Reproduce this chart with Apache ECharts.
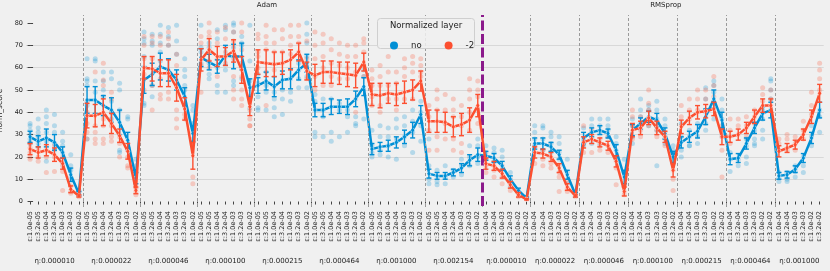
<!DOCTYPE html>
<html><head><meta charset="utf-8">
<script src="https://cdn.jsdelivr.net/npm/echarts@6/dist/echarts.min.js"></script>
<style>html,body{margin:0;padding:0;background:#f0f0f0}#c{width:830px;height:271px}</style>
</head><body><div id="c"></div>
<script>
// ---- data ----
const optimizers = ['Adam', 'RMSprop'];
const adamEps = ['1.0e-05','3.2e-05','1.0e-04','3.2e-04','1.0e-03','3.2e-03','1.0e-02'];
const rmsEps  = ['1.0e-04','3.2e-04','1.0e-03','3.2e-03','1.0e-02','3.2e-02'];
const adamEta = ['0.000010','0.000022','0.000046','0.000100','0.000215','0.000464','0.001000','0.002154'];
const rmsEta  = ['0.000010','0.000022','0.000046','0.000100','0.000215','0.000464','0.001000'];
const seriesNames = ['no', '-2'];

const blueMean = [
 29,27,28.5,26.5,22,12,3.5,
 45.5,45.5,43,41,35.5,27.5,10.5,
 54.5,57,60.5,59,54.5,47,30.5,
 64.5,62.5,60.5,65.5,65,65,51,
 52,54,51.5,54.5,55,59,62,
 41,41,42.5,42.5,42.5,46,51.5,
 23.5,24.5,25,26.5,29,32,39,
 12.5,11.5,11.5,13,15,18.5,21,
 20.5,19.5,16,10,5,1.5,
 26,26,24.5,21,12,3,
 28.5,31,32,30.5,23,11,
 32,35,38,36.5,30.5,20,
 26.5,29,31.5,38,46,36.5,
 19,19.5,26,33,39.5,41,
 11.5,12,14.5,19.5,28.5,41];
const blueErr = [
 2.5,2.5,4,3.5,2.5,3,1,
 6,6,4.5,5.5,5.5,3.5,2.5,
 6,5,6,5,4.5,4,3.5,
 4,3.5,3,4.5,5.5,6,4,
 3.5,4,4.5,4,4.5,4.5,4,
 3,3,3.5,3,3.5,3.5,4,
 2.5,2,2.5,2.5,3,3.5,4,
 2,1.5,1.5,1.5,2,2.5,3,
 2,2,2,1.5,1,0.5,
 2.5,2.5,2,2,2,1,
 2.5,2,2,2,2.5,3,
 2.5,2.5,2.5,3,2.5,2.5,
 2.5,2.5,3,3.5,4,3.5,
 2.5,2,2.5,2.5,3,3.5,
 1.5,1.5,1.5,2,2.5,3.5];
const redMean = [
 23.5,22,23,21,17,5.5,2.5,
 38.5,38.5,40,35,29.5,22.5,5,
 60,59.5,57.5,57.5,51,41.5,20.5,
 63.5,68,65,65,67.5,59,42.5,
 62.5,62,61.5,62,63.5,67,58.5,
 56.5,58,58,57.5,57,56.5,62.5,
 48,47.5,48.5,48,49,50,54,
 36,36,35.5,33.5,34.5,36.5,43,
 17,16,12.5,7.5,3,1,
 22,21.5,20,15,6.5,2.5,
 26.5,28,26.5,25,18,4.5,
 32,33,37.5,33,29,14,
 33.5,37.5,40,40.5,41.5,29,
 29,30,33,38,43,43,
 22.5,24,25.5,30,38,48.5];
const redErr = [
 2.5,2.5,2.5,3,2.5,1.5,0.5,
 5.5,5,6,4.5,3,3.5,1.5,
 5,5.5,6,6,6,5,6,
 5,5,4.5,4,5,6,4,
 5.5,6,5.5,5,4.5,4,4,
 5,5,5,5,5.5,5.5,4,
 5,5.5,4.5,5,5,4.5,4.5,
 5,5,4.5,4.5,5,5.5,5,
 2.5,2,2,1.5,1,0.3,
 2.5,2,2,2,1.5,0.5,
 2.5,2,2,2,2.5,2,
 3,3,3,3,2.5,3,
 3,3,3,3,3,3.5,
 2.5,2.5,2.5,3,3,3,
 2.5,2,2,2.5,3,4];
const blueDots = [
 [35,34,32,30,28,26],[37,33,31,29,26],[41,38,35,31,27,18],[39,34,31,26,23],[31,27,25,22,17],[21,16,14,11],[5,4,3],
 [64,55,54,52,43,28],[64,63,54,49],[58,54,50,47],[58,55,45,40,37],[53,50,41,23,22],[38,37,23],[19,16],
 [76,73,71,65,55,44,43],[75,72,70,52,47],[79,75,71,67,63],[78,74,70,58],[79,72,66],[64,59,56,52,50],[43,41,35],
 [79,69,67,62],[71,69,62,57,55],[77,73,60,52,49],[79,77,65,59,49],[80,79,76,69,54,52],[74,71,70,62,55],[79,63,54,47,42],
 [57,53,47,42,41],[58,52,49,41],[49,46,42,38],[50,46,39],[55,49,45],[62,59,55,51],[80,75,71,65,56,51],
 [48,45,41,31,29],[46,41,38,29],[46,31,27],[44,41,29],[41,38,31],[38,35,34],[59,56,37],
 [32,25,22,20],[34,29,23,21],[33,29,25,20],[37,33,28,19],[38,34,29,25],[41,36,31,22],[45,40,34,27],
 [28,16,10,8],[14,9,7.5],[16,11,8],[14,11],[19,16,12],[25,20,16],[28,25,20,17],
 [25,22,19],[24,22,18],[23,20,14],[13,10,7],[5,4,3],[1.5],
 [34,31,28,25],[34,33,28,23],[31,29,26,22],[29,26,22,19],[19,13,8],[4.5,3],
 [33,28,26,25],[37,34,31,26],[37,34,31,26],[37,34,32,29],[29,26,23,19],[19,13,8],
 [37,34,29,26],[46,41,38,35],[43,41,37,34],[45,41,37,32,16],[37,34,29,26],[25,23,20],
 [35,29,23,20],[32,29,25,25],[35,29,26],[51,46,40,35,32],[54,52,49,44,37],[46,41,37,29],
 [22,19,13.5],[19,16],[28,25,20,17],[32,28,26,25],[41,37,32,28],[55,54,50,46,41],
 [13,10.5,9],[13,10,9],[16,13.5,11],[20,16,13],[34,29,25],[41,38,31]];
const redDots = [
 [26,24,22,20,19],[24,20,18],[23,20,13],[25,20,13.5],[20,16,13.5,5],[7,4.5,3.7],[3,2.5,2.2],
 [45,40,35,31,28],[58,34,31,28,26],[62,54.5,52,37,34,28,26],[49,46,40,34,29,27],[29,26,20],[20,16,15],[6,4.5,3],
 [74,70,64,57,50],[74,71,64,52,41],[74,70,55,48,46],[76,73,70,49,46],[66,61,52,41,37,33],[44,43,39,37],[31,28,11,8],
 [74,71,61,49],[80,76,74,63,60],[76,71,64,56],[78,73,67,62],[76,72,64,56,50,46],[80,76,68,56,50,46,43],[47,41,37,34,34],
 [75,73,67,65,60],[79,74,71,68,43],[77,71,67,59],[77,73,67,62],[79,74,70,66],[79,74,71,67],[72,64,55],
 [76,70,64,56,50],[75,71,65,60,52],[73,68,62,56,52],[71,66,61,55],[70,65,60,55],[70,65,58,46,40],[73,71,67,61,56],
 [59,55,52,47,43],[61,56,52,43,40],[65,58,52,46],[58,53,46,41],[64,60,56,46],[65,62,58,46],[64,61,58,56],
 [43,38,32,23],[50,46,41,29,23],[48,41,35,28],[46,41,38,28,23],[43,38,34,26,22],[55,50,46,40,32],[54,50,47,41,35],
 [19.5,16,13],[16,14,11],[16,11,8],[10,7.5,5],[4,2.2],[1],
 [25,22,17],[23,19,16],[20,17,15],[16,13,11,4.5],[9,6,4.5],[3,2.2],
 [34,26,22],[32,28,22],[28,25,23],[29,25,22],[18,15,7.5],[7,4.5,3],
 [41,38,34,28],[38,32,29],[50,44,41,34],[35,32,29],[31,28,25],[14,10,5],
 [43,38,34],[46,41,37],[50,46,41],[50,46,41],[56,52,47],[34,29,23,11],
 [37,32,26],[37,34,30],[38,34,29],[41,38,35],[51,48,45],[50,46,43],
 [28,26,23],[30,28,23],[29,26,23],[36,32,28],[49,43,39],[62,59,55,50]];
const yTicks = [0,10,20,30,40,50,60,70,80];

// ---- derived structure ----
const categories = [];
const groupLabels = [];
const groupSizes = [];
adamEta.forEach(e => { groupLabels.push('η:' + e); groupSizes.push(adamEps.length); adamEps.forEach(s => categories.push('ε:' + s)); });
rmsEta.forEach(e => { groupLabels.push('η:' + e); groupSizes.push(rmsEps.length); rmsEps.forEach(s => categories.push('ε:' + s)); });
const boundaries = [], centers = [];
let acc = 0;
groupSizes.forEach((n, i) => { centers.push(acc + (n - 1) / 2); acc += n; if (i < groupSizes.length - 1) boundaries.push(acc - 0.5); });
const optBoundary = adamEta.length * adamEps.length - 0.5;
const optCenters = [29.1, 78.1];

const BLUE = '#008fd5', RED = '#fc4f30';
const dotsData = d => { const out = []; d.forEach((arr, i) => arr.forEach(v => out.push([i, v]))); return out; };
const errData = (m, e) => m.map((v, i) => [i, v - e[i], v + e[i]]);
function errRender(color) {
  return function (params, api) {
    const x = api.value(0);
    const p1 = api.coord([x, api.value(1)]), p2 = api.coord([x, api.value(2)]);
    const cw = 2.5, st = { stroke: color, lineWidth: 1.4 };
    return { type: 'group', children: [
      { type: 'line', shape: { x1: p1[0], y1: p1[1], x2: p2[0], y2: p2[1] }, style: st },
      { type: 'line', shape: { x1: p1[0] - cw, y1: p1[1], x2: p1[0] + cw, y2: p1[1] }, style: st },
      { type: 'line', shape: { x1: p2[0] - cw, y1: p2[1], x2: p2[0] + cw, y2: p2[1] }, style: st }
    ]};
  };
}
const nearestLabel = (labels, cs) => v => { let b = 0; cs.forEach((c, i) => { if (Math.abs(c - v) < Math.abs(cs[b] - v)) b = i; }); return labels[b]; };

const FONT = 'DejaVu Sans';
const chart = echarts.init(document.getElementById('c'), null, { renderer: 'canvas' });
const yBase = {
  type: 'value', min: -2, max: 83.6, minInterval: 10, maxInterval: 10, splitNumber: 8
};
chart.setOption({
  animation: false,
  backgroundColor: '#f0f0f0',
  textStyle: { fontFamily: FONT },
  grid: { left: 26, right: 6.3, top: 15, bottom: 65, containLabel: false, outerBoundsMode: 'none' },
  legend: {
    left: 385, top: 36, itemWidth: 8, itemHeight: 8, itemGap: 23, icon: 'circle', z: 60,
    textStyle: { fontSize: 8.5, color: '#222', fontFamily: FONT, padding: [0, 0, 0, 8] },
    data: [
      { name: seriesNames[0], itemStyle: { color: BLUE, opacity: 1 } },
      { name: seriesNames[1], itemStyle: { color: RED, opacity: 1 } }
    ]
  },
  graphic: [
    { type: 'rect', left: 377, top: 18, shape: { width: 97, height: 30, r: 3 }, z: 50,
      style: { fill: 'rgba(240,240,240,0.85)', stroke: '#cfcfcf', lineWidth: 1 } },
    { type: 'text', left: 390, top: 21, z: 51,
      style: { text: 'Normalized layer', fontSize: 8.5, fill: '#222', fontFamily: FONT } }
  ],
  xAxis: [
    { type: 'category', data: categories, gridIndex: 0,
      axisLine: { show: false },
      axisTick: { show: true, length: 3, alignWithLabel: true, interval: 0, lineStyle: { color: '#444' } },
      axisLabel: { rotate: 90, interval: 0, fontSize: 6.5, color: '#222', margin: 5, fontFamily: FONT },
      splitLine: { show: false } },
    { type: 'value', min: -0.5, max: 97.5, position: 'bottom', offset: 45,
      axisLine: { show: false },
      axisTick: { show: true, length: 5, customValues: boundaries, lineStyle: { color: '#444' } },
      axisLabel: { customValues: centers, formatter: nearestLabel(groupLabels, centers), fontSize: 7, color: '#222', margin: 7, fontFamily: FONT },
      splitLine: { show: false } },
    { type: 'value', min: -0.5, max: 97.5, position: 'top',
      axisLine: { show: false }, axisTick: { show: false },
      axisLabel: { customValues: optCenters, formatter: nearestLabel(optimizers, optCenters), fontSize: 7, color: '#222', margin: 6, fontFamily: FONT },
      splitLine: { show: false } }
  ],
  yAxis: [
    Object.assign({}, yBase, {
      position: 'left', name: 'norm_score', nameLocation: 'middle', nameGap: 13,
      nameTextStyle: { fontSize: 7.5, color: '#222', fontFamily: FONT },
      axisLine: { show: false },
      axisTick: { show: true, inside: true, length: 3, customValues: yTicks, lineStyle: { color: '#444' } },
      axisLabel: { customValues: yTicks, fontSize: 6.5, color: '#222', margin: 3, fontFamily: FONT },
      splitLine: { show: true, showMinLine: false, showMaxLine: false, lineStyle: { color: '#d8d8d8', width: 1 } }
    }),
    Object.assign({}, yBase, {
      position: 'right',
      axisLine: { show: false },
      axisTick: { show: true, inside: true, length: 2.5, customValues: yTicks, lineStyle: { color: '#444' } },
      axisLabel: { show: false }, splitLine: { show: false }
    })
  ],
  series: [
    { type: 'line', xAxisIndex: 1, yAxisIndex: 0, data: [], silent: true,
      markLine: { silent: true, symbol: ['none', 'none'], label: { show: false },
        lineStyle: { color: '#9a9a9a', type: [3, 2], width: 1 },
        data: boundaries.filter(b => b !== optBoundary).map(b => ({ xAxis: b })) } },
    { type: 'scatter', name: 'no', xAxisIndex: 0, yAxisIndex: 0, data: dotsData(blueDots), symbolSize: 5,
      itemStyle: { color: BLUE, opacity: 0.25 }, z: 2 },
    { type: 'scatter', name: '-2', xAxisIndex: 0, yAxisIndex: 0, data: dotsData(redDots), symbolSize: 5,
      itemStyle: { color: RED, opacity: 0.25 }, z: 2 },
    { type: 'line', name: 'no', xAxisIndex: 0, yAxisIndex: 0, data: blueMean, z: 3,
      lineStyle: { color: BLUE, width: 2.5 }, symbol: 'circle', symbolSize: 4,
      itemStyle: { color: BLUE, borderColor: '#fff', borderWidth: 0.6 } },
    { type: 'custom', name: 'no', xAxisIndex: 0, yAxisIndex: 0, data: errData(blueMean, blueErr), z: 4,
      renderItem: errRender(BLUE), encode: { x: 0, y: [1, 2] } },
    { type: 'line', name: '-2', xAxisIndex: 0, yAxisIndex: 0, data: redMean, z: 5,
      lineStyle: { color: RED, width: 2.5 }, symbol: 'circle', symbolSize: 4,
      itemStyle: { color: RED, borderColor: '#fff', borderWidth: 0.6 } },
    { type: 'custom', name: '-2', xAxisIndex: 0, yAxisIndex: 0, data: errData(redMean, redErr), z: 6,
      renderItem: errRender(RED), encode: { x: 0, y: [1, 2] } },
    { type: 'line', xAxisIndex: 1, yAxisIndex: 0, data: [], silent: true, z: 7,
      markLine: { silent: true, symbol: ['none', 'none'], label: { show: false },
        lineStyle: { color: '#8b1a8b', type: [10, 3.5], width: 3 },
        data: [{ xAxis: optBoundary }] } }
  ]
});
</script></body></html>
